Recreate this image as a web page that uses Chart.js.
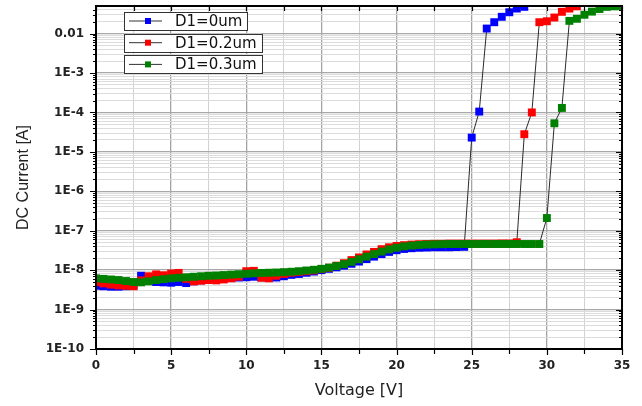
<!DOCTYPE html>
<html>
<head>
<meta charset="utf-8">
<title>DC Current vs Voltage</title>
<script src="https://cdn.jsdelivr.net/npm/chart.js@4.4.0/dist/chart.umd.min.js"></script>
<style>
  html, body { margin: 0; padding: 0; background: #fff; }
  #chart { display: block; }
</style>
</head>
<body>
<canvas id="chart" width="642" height="406"></canvas>
<script>
// Sweep voltages (V), 0.5 V step
const volts = [
  0, 0.5, 1, 1.5, 2, 2.5, 3, 3.5, 4, 4.5,
  5, 5.5, 6, 6.5, 7, 7.5, 8, 8.5, 9, 9.5,
  10, 10.5, 11, 11.5, 12, 12.5, 13, 13.5, 14, 14.5,
  15, 15.5, 16, 16.5, 17, 17.5, 18, 18.5, 19, 19.5,
  20, 20.5, 21, 21.5, 22, 22.5, 23, 23.5, 24, 24.5,
  25, 25.5, 26, 26.5, 27, 27.5, 28, 28.5, 29, 29.5,
  30, 30.5, 31, 31.5, 32, 32.5, 33, 33.5, 34, 34.5, 35
];

// Measured DC current (A), one value per voltage until the sweep stops
const currentD1_0 = [
  4.0e-9, 3.9e-9, 3.8e-9, 3.8e-9, 3.9e-9, 4.1e-9, 7.2e-9, 6.5e-9, 5.0e-9, 4.9e-9,
  4.8e-9, 5.0e-9, 4.7e-9, 5.2e-9, 5.5e-9, 6.0e-9, 6.3e-9, 6.2e-9, 6.4e-9, 6.5e-9,
  6.6e-9, 6.8e-9, 6.6e-9, 6.4e-9, 6.5e-9, 7.0e-9, 7.6e-9, 8.0e-9, 8.6e-9, 9.2e-9,
  1.0e-8, 1.08e-8, 1.18e-8, 1.3e-8, 1.45e-8, 1.65e-8, 1.9e-8, 2.2e-8, 2.55e-8, 2.9e-8,
  3.2e-8, 3.45e-8, 3.6e-8, 3.7e-8, 3.75e-8, 3.8e-8, 3.8e-8, 3.8e-8, 3.85e-8, 3.9e-8,
  2.3e-5, 1.05e-4, 1.34e-2, 1.94e-2, 2.66e-2, 3.47e-2, 4.31e-2, 4.76e-2
];
const currentD1_02 = [
  5.0e-9, 4.6e-9, 4.3e-9, 4.1e-9, 4.0e-9, 3.9e-9, 5.5e-9, 7.0e-9, 7.8e-9, 7.4e-9,
  8.2e-9, 8.5e-9, 6.0e-9, 5.2e-9, 5.4e-9, 5.6e-9, 5.5e-9, 5.8e-9, 6.2e-9, 6.8e-9,
  9.4e-9, 9.6e-9, 6.4e-9, 6.2e-9, 7.2e-9, 8.0e-9, 8.6e-9, 9.0e-9, 9.4e-9, 9.8e-9,
  1.06e-8, 1.15e-8, 1.3e-8, 1.5e-8, 1.8e-8, 2.1e-8, 2.5e-8, 2.9e-8, 3.4e-8, 3.8e-8,
  4.1e-8, 4.3e-8, 4.45e-8, 4.55e-8, 4.6e-8, 4.65e-8, 4.65e-8, 4.7e-8, 4.7e-8, 4.7e-8,
  4.7e-8, 4.7e-8, 4.7e-8, 4.7e-8, 4.75e-8, 4.75e-8, 5.1e-8, 2.8e-5, 1.0e-4, 1.94e-2,
  2.05e-2, 2.55e-2, 3.56e-2, 4.3e-2, 4.9e-2
];
const currentD1_03 = [
  6.2e-9, 6.0e-9, 5.8e-9, 5.6e-9, 5.3e-9, 5.0e-9, 4.9e-9, 5.2e-9, 5.6e-9, 5.9e-9,
  6.2e-9, 6.4e-9, 6.6e-9, 6.8e-9, 7.0e-9, 7.2e-9, 7.3e-9, 7.5e-9, 7.7e-9, 7.9e-9,
  8.1e-9, 8.3e-9, 8.5e-9, 8.6e-9, 8.7e-9, 8.9e-9, 9.1e-9, 9.4e-9, 9.8e-9, 1.02e-8,
  1.08e-8, 1.16e-8, 1.27e-8, 1.42e-8, 1.62e-8, 1.88e-8, 2.2e-8, 2.55e-8, 2.95e-8, 3.35e-8,
  3.7e-8, 4.0e-8, 4.2e-8, 4.35e-8, 4.45e-8, 4.5e-8, 4.55e-8, 4.6e-8, 4.6e-8, 4.6e-8,
  4.6e-8, 4.6e-8, 4.6e-8, 4.6e-8, 4.6e-8, 4.6e-8, 4.6e-8, 4.6e-8, 4.6e-8, 4.6e-8,
  2.1e-7, 5.3e-5, 1.3e-4, 2.1e-2, 2.37e-2, 3.0e-2, 3.6e-2, 4.2e-2, 4.76e-2, 4.9e-2, 5.0e-2
];

const seriesNames = ['D1=0um', 'D1=0.2um', 'D1=0.3um'];
const seriesColors = ['#0000ff', '#ff0000', '#008000'];
const seriesCurrents = [currentD1_0, currentD1_02, currentD1_03];

// Axis ranges and tick layout
const xMin = 0, xMax = 35, xStep = 2.5, xLabelEvery = 5;
const yMin = 1e-10, yMax = 0.05;
const decadeExps = [-10, -9, -8, -7, -6, -5, -4, -3, -2];
const minorMultipliers = [1, 2, 3, 4, 5, 6, 7, 8, 9];

const yTickValues = [];
decadeExps.forEach(e => {
  minorMultipliers.forEach(m => {
    const v = m * Math.pow(10, e);
    if (v <= yMax * 1.0001) yTickValues.push(v);
  });
});
yTickValues.push(yMax);

function isDecade(v) {
  const e = Math.log10(v);
  return Math.abs(e - Math.round(e)) < 1e-6;
}

function decadeLabel(v) {
  if (!isDecade(v)) return '';
  const e = Math.round(Math.log10(v));
  return e === -2 ? '0.01' : '1E' + e;
}

const datasets = seriesNames.map((name, i) => ({
  label: name,
  data: seriesCurrents[i].map((c, k) => ({ x: volts[k], y: c })),
  borderColor: '#2a2a2a',
  borderWidth: 1,
  pointStyle: 'rect',
  pointRadius: 5.6,
  pointBorderWidth: 0,
  pointBackgroundColor: seriesColors[i],
  pointBorderColor: seriesColors[i],
  tension: 0,
  order: 3 - i // green on top, blue underneath
}));

// Frame plus tick marks: outward on left/bottom, inward on top/right
const framePlugin = {
  id: 'frameTicks',
  afterDatasetsDraw(chart) {
    const { ctx, chartArea } = chart;
    const { left, right, top, bottom } = chartArea;
    const xs = chart.scales.x, ys = chart.scales.y;
    ctx.save();
    ctx.strokeStyle = '#000';
    ctx.lineWidth = 1.2;
    ctx.beginPath();
    xs.ticks.forEach(t => {
      const px = Math.round(xs.getPixelForValue(t.value)) + 0.5;
      const major = t.value % xLabelEvery === 0;
      ctx.moveTo(px, bottom);
      ctx.lineTo(px, bottom + (major ? 6 : 5));
      ctx.moveTo(px, top);
      ctx.lineTo(px, top + 5);
    });
    ys.ticks.forEach(t => {
      if (t.value >= yMax) return;
      const py = Math.round(ys.getPixelForValue(t.value)) + 0.5;
      const major = isDecade(t.value);
      ctx.moveTo(left - (major ? 6 : 3), py);
      ctx.lineTo(left, py);
      ctx.moveTo(right, py);
      ctx.lineTo(right - (major ? 6 : 3), py);
    });
    ctx.stroke();
    ctx.lineWidth = 2;
    ctx.strokeRect(left, top, right - left, bottom - top);
    ctx.restore();
  }
};

// Boxed legend in the upper-left corner of the plot
const legendPlugin = {
  id: 'boxLegend',
  afterDraw(chart) {
    const { ctx, chartArea } = chart;
    ctx.save();
    ctx.font = '15px "DejaVu Sans"';
    ctx.textBaseline = 'middle';
    seriesNames.forEach((name, i) => {
      const left = chartArea.left + 28;
      const top = chartArea.top + 6 + i * 21.7;
      const h = 18;
      const textX = left + 51;
      const w = textX - left + ctx.measureText(name).width + 5;
      const cy = top + h / 2;
      ctx.fillStyle = '#fff';
      ctx.fillRect(left, top, w, h);
      ctx.strokeStyle = '#333';
      ctx.lineWidth = 1;
      ctx.strokeRect(Math.round(left) + 0.5, Math.round(top) + 0.5, Math.round(w), h);
      ctx.beginPath();
      ctx.moveTo(left + 5, cy);
      ctx.lineTo(left + 38, cy);
      ctx.stroke();
      ctx.fillStyle = seriesColors[i];
      ctx.fillRect(left + 21, cy - 3, 6, 6);
      ctx.fillStyle = '#111';
      ctx.fillText(name, textX, cy + 1);
    });
    ctx.restore();
  }
};

const tickFont = { family: 'DejaVu Sans', size: 12, weight: 'bold' };

new Chart(document.getElementById('chart'), {
  type: 'line',
  data: { datasets },
  options: {
    responsive: false,
    animation: false,
    layout: { padding: { top: 6, right: 20, left: 0, bottom: 0 } },
    plugins: { legend: { display: false }, tooltip: { enabled: false } },
    scales: {
      x: {
        type: 'linear',
        min: xMin,
        max: xMax,
        border: { display: false },
        grid: {
          drawTicks: false,
          color: c => (c.tick.value % xLabelEvery === 0 ? '#a4a4a4' : '#d2d2d2'),
          lineWidth: c => (c.tick.value % xLabelEvery === 0 ? 1.3 : 1)
        },
        ticks: {
          stepSize: xStep,
          autoSkip: false,
          maxRotation: 0,
          padding: 10,
          color: '#222',
          font: tickFont,
          callback: v => (v % xLabelEvery === 0 ? String(v) : '')
        },
        title: {
          display: true,
          text: 'Voltage [V]',
          color: '#222',
          font: { family: 'DejaVu Sans', size: 16 },
          padding: { top: 0, bottom: 6 }
        },
        afterFit: s => { s.height = 57; s.paddingLeft = 0; s.paddingRight = 0; }
      },
      y: {
        type: 'logarithmic',
        min: yMin,
        max: yMax,
        border: { display: false },
        afterBuildTicks: s => { s.ticks = yTickValues.map(v => ({ value: v })); },
        grid: {
          drawTicks: false,
          color: c => (isDecade(c.tick.value) ? '#a8a8a8' : '#dcdcdc'),
          lineWidth: c => (isDecade(c.tick.value) ? 1.3 : 1)
        },
        ticks: {
          autoSkip: false,
          padding: 12,
          color: '#222',
          font: tickFont,
          callback: v => decadeLabel(v)
        },
        title: {
          display: true,
          text: 'DC Current [A]',
          color: '#222',
          font: { family: 'Liberation Sans', size: 16 },
          padding: { top: 14, bottom: 0 }
        },
        afterFit: s => { s.width = 96; s.paddingTop = 0; s.paddingBottom = 0; }
      }
    }
  },
  plugins: [framePlugin, legendPlugin]
});
</script>
</body>
</html>
